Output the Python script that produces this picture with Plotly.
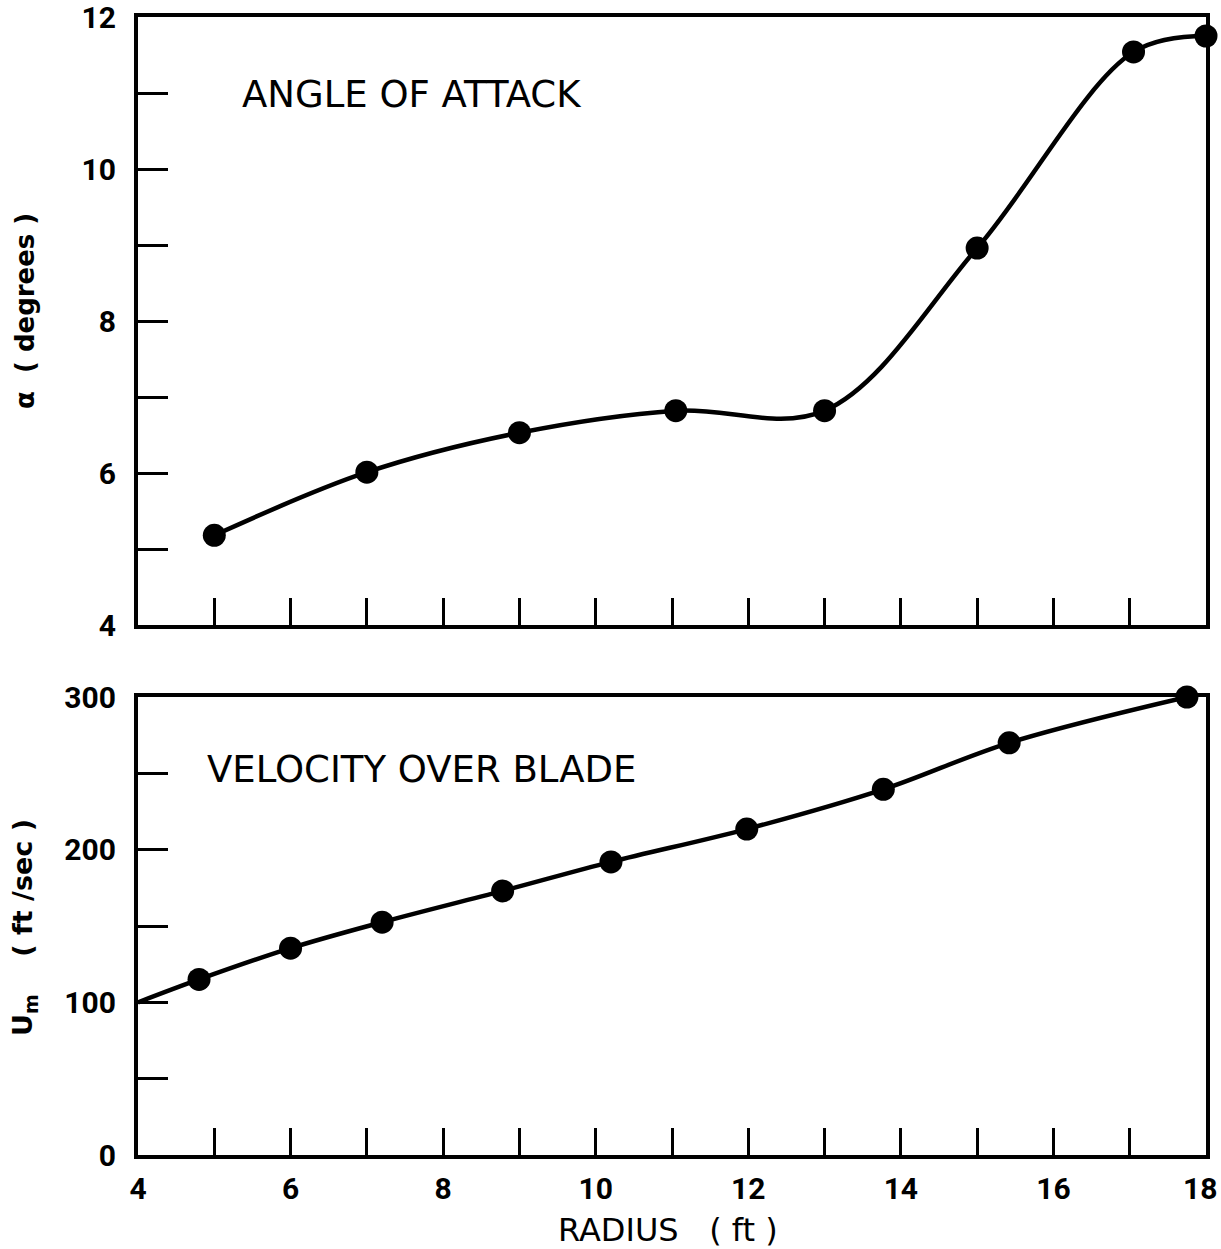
import plotly.graph_objects as go
from plotly.subplots import make_subplots

# ---- data ----
alpha_radius = [5, 7, 9, 11.05, 13, 15, 17.05, 18]
alpha_deg = [5.18, 6.01, 6.53, 6.82, 6.82, 8.96, 11.54, 11.75]

vel_radius = [4.8, 6.0, 7.2, 8.78, 10.2, 11.98, 13.77, 15.42, 17.75]
vel_fps = [115, 135.5, 152.5, 173, 192, 213.5, 239.5, 270, 300]
vel_curve_start_x = [4]
vel_curve_start_y = [100]

x_ticks = list(range(4, 19))
x_ticktext = [str(v) if (v % 2 == 0 and v < 18) else "" for v in x_ticks]
x_last_label = "18"
alpha_ticks = list(range(4, 13))
alpha_ticktext = [str(v) if v % 2 == 0 else "" for v in alpha_ticks]
vel_ticks = list(range(0, 301, 50))
vel_ticktext = [str(v) if v % 100 == 0 else "" for v in vel_ticks]

W, H = 1221, 1249
L, R, T, B = 138, 15, 17, 94
plot_h = H - T - B

fig = make_subplots(rows=2, cols=1, shared_xaxes=False)

LINE_W = 4.5
MSIZE = 23

fig.add_trace(go.Scatter(x=alpha_radius, y=alpha_deg, mode="lines",
                         line=dict(color="black", width=LINE_W, shape="spline", smoothing=1.0),
                         cliponaxis=False, showlegend=False, hoverinfo="skip"), row=1, col=1)
fig.add_trace(go.Scatter(x=alpha_radius, y=alpha_deg, mode="markers",
                         marker=dict(color="black", size=MSIZE),
                         cliponaxis=False, showlegend=False), row=1, col=1)

fig.add_trace(go.Scatter(x=vel_curve_start_x + vel_radius, y=vel_curve_start_y + vel_fps, mode="lines",
                         line=dict(color="black", width=LINE_W, shape="spline", smoothing=1.0),
                         cliponaxis=False, showlegend=False, hoverinfo="skip"), row=2, col=1)
fig.add_trace(go.Scatter(x=vel_radius, y=vel_fps, mode="markers",
                         marker=dict(color="black", size=MSIZE),
                         cliponaxis=False, showlegend=False), row=2, col=1)

tickfont = dict(family="Roboto", size=30, color="black", weight=700)

axis_common = dict(showline=True, linecolor="black", linewidth=4, mirror=True,
                   showgrid=False, zeroline=False, ticks="inside",
                   tickcolor="black", tickwidth=3, layer="below traces",
                   ticklabeloverflow="allow")

top_bottom_frac = (H - B - 625) / plot_h
bot_top_frac = (H - B - 697) / plot_h

fig.update_xaxes(range=[4, 18], tickvals=x_ticks, ticktext=["" for _ in x_ticks],
                 ticklen=27, domain=[0, 1], **axis_common, row=1, col=1)
fig.update_xaxes(range=[4, 18], tickvals=x_ticks, ticktext=x_ticktext,
                 ticklen=27, tickfont=tickfont, ticklabelstandoff=4,
                 domain=[0, 1], **axis_common, row=2, col=1)
fig.update_yaxes(range=[4, 12], tickvals=alpha_ticks, ticktext=alpha_ticktext,
                 ticklen=30, tickfont=tickfont, ticklabelstandoff=12,
                 domain=[top_bottom_frac, 1], **axis_common, row=1, col=1)
fig.update_yaxes(range=[0, 300], tickvals=vel_ticks, ticktext=vel_ticktext,
                 ticklen=30, tickfont=tickfont, ticklabelstandoff=12,
                 domain=[0, bot_top_frac], **axis_common, row=2, col=1)

def px_x(p):
    return (p - L) / (W - L - R)

def px_y(p):
    return (H - B - p) / plot_h

annos = [
    dict(text="ANGLE OF ATTACK", x=px_x(240), y=px_y(95), xanchor="left", yanchor="middle",
         font=dict(family="DejaVu Sans", size=37, color="black")),
    dict(text="VELOCITY OVER BLADE", x=px_x(205), y=px_y(770), xanchor="left", yanchor="middle",
         font=dict(family="DejaVu Sans", size=37, color="black")),
    dict(text="α  ( degrees )", x=px_x(25), y=px_y(311), xanchor="center", yanchor="middle",
         textangle=-90, font=dict(family="DejaVu Sans", size=26, color="black", weight=700)),
    dict(text="U<sub>m</sub>    ( ft /sec )", x=px_x(25), y=px_y(928), xanchor="center", yanchor="middle",
         textangle=-90, font=dict(family="DejaVu Sans", size=27, color="black", weight=700)),
    dict(text="RADIUS   ( ft )", x=px_x(668), y=px_y(1230), xanchor="center", yanchor="middle",
         font=dict(family="DejaVu Sans", size=32, color="black")),
    dict(text=x_last_label, x=px_x(1219), y=px_y(1189), xanchor="right", yanchor="middle",
         font=tickfont),
]
for a in annos:
    a.update(xref="paper", yref="paper", showarrow=False)

fig.update_layout(width=W, height=H, margin=dict(l=L, r=R, t=T, b=B, autoexpand=False),
                  paper_bgcolor="white", plot_bgcolor="white", annotations=annos,
                  showlegend=False)

fig.write_html("out.html")
